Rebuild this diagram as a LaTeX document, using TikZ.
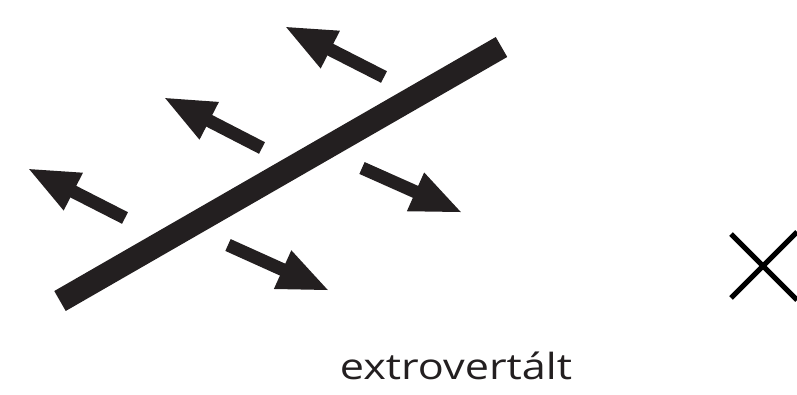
\documentclass[tikz,border=0pt]{standalone}
\usepackage{fontspec}
\setmainfont{Open Sans}
\newfontfamily\lblfont[FakeStretch=1.2]{Open Sans}
\usetikzlibrary{arrows.meta}
\definecolor{ink}{HTML}{231F20}
\tikzset{
  bar/.style={line width=23pt},
  flow/.style={line width=13pt,-{Triangle[length=52pt,width=38pt]}},
  cross/.style={line width=5pt}
}
\begin{document}
\begin{tikzpicture}[x=1pt,y=-1pt,color=ink]
  \useasboundingbox (0,0) rectangle (797,394);
  % membrane
  \coordinate (b1) at (60,301);
  \coordinate (b2) at (501.5,47);
  \draw[bar] (b1) -- (b2);
  % arrows out of the upper side
  \coordinate (u1t) at (384,77);  \coordinate (u1h) at (284,26);
  \coordinate (u2t) at (262,148); \coordinate (u2h) at (163,97);
  \coordinate (u3t) at (125,218); \coordinate (u3h) at (27,168);
  \foreach \i in {1,2,3} \draw[flow] (u\i t) -- (u\i h);
  % arrows out of the lower side
  \coordinate (d1t) at (362,168); \coordinate (d1h) at (463,213);
  \coordinate (d2t) at (228,245); \coordinate (d2h) at (330,291);
  \foreach \i in {1,2} \draw[flow] (d\i t) -- (d\i h);
  % cross
  \coordinate (x1) at (731,234); \coordinate (x2) at (797,300);
  \coordinate (x3) at (731,298); \coordinate (x4) at (797,232);
  \draw[cross,black] (x1) -- (x2) (x3) -- (x4);
  \node[anchor=base,font=\lblfont\fontsize{36}{42}\selectfont,inner sep=0pt] (lbl) at (456,379) {extrovertált};
\end{tikzpicture}
\end{document}
